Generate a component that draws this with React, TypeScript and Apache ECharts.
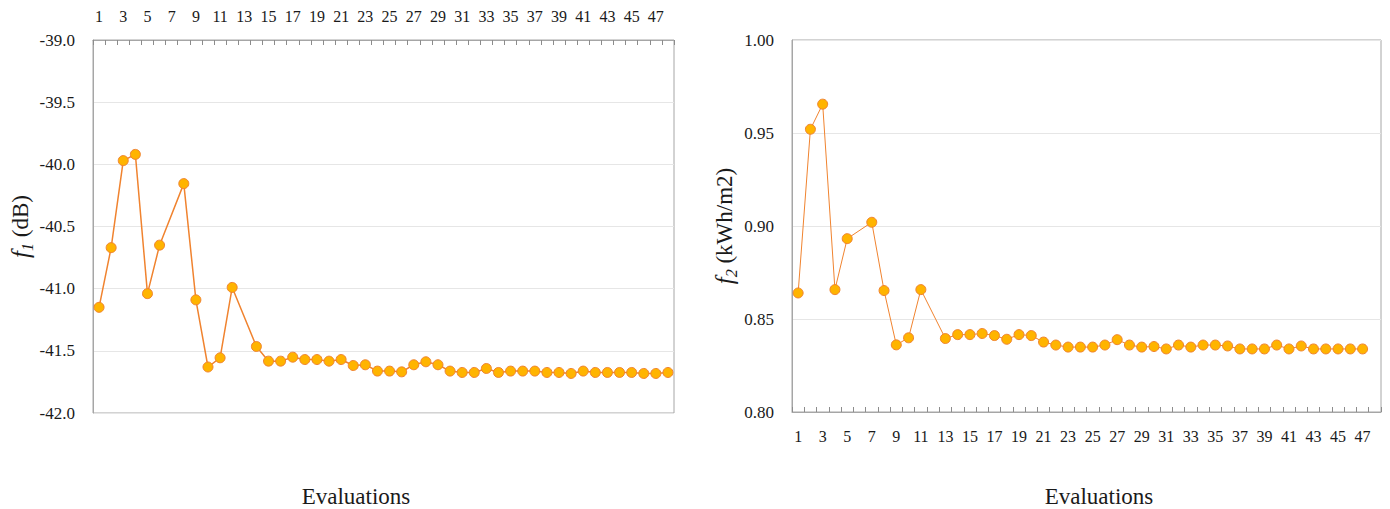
import React, { useEffect, useRef } from "react";
import * as echarts from "echarts";

const evaluations = [
  "1", "2", "3", "4", "5", "6", "7", "8", "9", "10", "11", "12",
  "13", "14", "15", "16", "17", "18", "19", "20", "21", "22", "23", "24",
  "25", "26", "27", "28", "29", "30", "31", "32", "33", "34", "35", "36",
  "37", "38", "39", "40", "41", "42", "43", "44", "45", "46", "47", "48",
];

// f1 (dB) per evaluation (null = no point plotted)
const f1Values: (number | null)[] = [
  -41.15, -40.67, -39.97, -39.92, -41.04, -40.65, null, -40.155, -41.09, -41.63, -41.556, -40.99,
  null, -41.465, -41.583, -41.583, -41.551, -41.57, -41.57, -41.583, -41.57, -41.618, -41.612, -41.663,
  -41.663, -41.669, -41.612, -41.588, -41.612, -41.663, -41.674, -41.674, -41.642, -41.674, -41.663, -41.663,
  -41.663, -41.674, -41.674, -41.682, -41.663, -41.674, -41.674, -41.674, -41.674, -41.682, -41.682, -41.674,
];

// f2 (kWh/m2) per evaluation
const f2Values: (number | null)[] = [
  0.864, 0.952, 0.9655, 0.8658, 0.8932, null, 0.902, 0.8653, 0.8361, 0.8399, 0.8658, null,
  0.8395, 0.8416, 0.8416, 0.8422, 0.8411, 0.8391, 0.8416, 0.8411, 0.8376, 0.836, 0.8349, 0.8349,
  0.8349, 0.836, 0.8389, 0.836, 0.8349, 0.8352, 0.8339, 0.836, 0.8349, 0.836, 0.836, 0.8355,
  0.8339, 0.8339, 0.8339, 0.836, 0.8339, 0.8355, 0.8339, 0.8339, 0.8339, 0.8339, 0.8339, null,
];

const FONT = "Times New Roman, Liberation Serif, DejaVu Serif, serif";
const TEXT = "#1a1a1a";
const LINE_COLOR = "#F0832F";
const MARKER_FILL = "#FFB400";

export default function App() {
  const ref = useRef<HTMLDivElement>(null);

  useEffect(() => {
    document.body.style.margin = "0";
    if (!ref.current) return;
    const chart = echarts.init(ref.current, undefined, { renderer: "svg" });

    const axisLabelStyle = { color: TEXT, fontFamily: FONT, fontSize: 16 };
    const richName = (sub: string, rest: string) => ({
      name: `{i|f}{s|${sub}}{n| ${rest}}`,
      nameLocation: "middle" as const,
      nameRotate: 90,
      nameTextStyle: {
        rich: {
          i: { fontFamily: FONT, fontStyle: "italic", fontSize: 25, color: TEXT, lineHeight: 30, verticalAlign: "middle" },
          s: { fontFamily: FONT, fontStyle: "italic", fontSize: 16, color: TEXT, lineHeight: 30, verticalAlign: "bottom" },
          n: { fontFamily: FONT, fontSize: 23, color: TEXT, lineHeight: 30, verticalAlign: "middle" },
        },
      },
    });

    const seriesStyle = (width: number) => ({
      type: "line" as const,
      symbol: "circle",
      symbolSize: 10,
      showAllSymbol: true,
      connectNulls: true,
      itemStyle: { color: MARKER_FILL, borderColor: LINE_COLOR, borderWidth: 1 },
      lineStyle: { color: LINE_COLOR, width },
      emphasis: { disabled: true },
    });

    const evalText = (x: number) => ({
      type: "text",
      x,
      y: 496,
      style: {
        text: "Evaluations",
        fontFamily: FONT,
        fontSize: 23,
        fill: TEXT,
        textAlign: "center",
        textVerticalAlign: "middle",
        align: "center",
        verticalAlign: "middle",
      },
    });

    chart.setOption({
      animation: false,
      textStyle: { fontFamily: FONT },
      grid: [
        { left: 93, top: 40, width: 581, height: 373, show: true, borderColor: "#a6a6a6", borderWidth: 1, containLabel: false },
        { left: 792, top: 40, width: 589, height: 372, show: true, borderColor: "#a6a6a6", borderWidth: 1, containLabel: false },
      ],
      xAxis: [
        {
          type: "category",
          gridIndex: 0,
          data: evaluations,
          position: "top",
          boundaryGap: true,
          axisLine: { show: true, lineStyle: { color: "#a6a6a6" } },
          axisTick: { show: true, inside: true, length: 5, interval: 0, lineStyle: { color: "#8c8c8c" } },
          axisLabel: { ...axisLabelStyle, interval: 1, margin: 16, hideOverlap: false },
          splitLine: { show: false },
        },
        {
          type: "category",
          gridIndex: 1,
          data: evaluations,
          position: "bottom",
          boundaryGap: true,
          axisLine: { show: true, lineStyle: { color: "#a6a6a6" } },
          axisTick: { show: true, inside: true, length: 5, interval: 0, lineStyle: { color: "#8c8c8c" } },
          axisLabel: { ...axisLabelStyle, interval: 1, margin: 16, hideOverlap: false },
          splitLine: { show: false },
        },
      ],
      yAxis: [
        {
          type: "value",
          gridIndex: 0,
          min: -42,
          max: -39,
          interval: 0.5,
          ...richName("1", "(dB)"),
          nameGap: 57,
          axisLine: { show: true, lineStyle: { color: "#a6a6a6" } },
          axisTick: { show: false },
          axisLabel: { ...axisLabelStyle, fontSize: 17, margin: 18, formatter: (v: number) => v.toFixed(1) },
          splitLine: { show: true, lineStyle: { color: "#e6e6e6" } },
        },
        {
          type: "value",
          gridIndex: 1,
          min: 0.8,
          max: 1.0,
          interval: 0.05,
          ...richName("2", "(kWh/m2)"),
          nameGap: 53,
          axisLine: { show: true, lineStyle: { color: "#a6a6a6" } },
          axisTick: { show: false },
          axisLabel: { ...axisLabelStyle, fontSize: 17, margin: 18, formatter: (v: number) => v.toFixed(2) },
          splitLine: { show: true, lineStyle: { color: "#e6e6e6" } },
        },
      ],
      series: [
        { ...seriesStyle(1.5), name: "f1", xAxisIndex: 0, yAxisIndex: 0, data: f1Values },
        { ...seriesStyle(1), name: "f2", xAxisIndex: 1, yAxisIndex: 1, data: f2Values },
      ],
      graphic: [evalText(356), evalText(1099)],
    });

    return () => chart.dispose();
  }, []);

  return <div ref={ref} style={{ width: 1390, height: 509 }} />;
}
